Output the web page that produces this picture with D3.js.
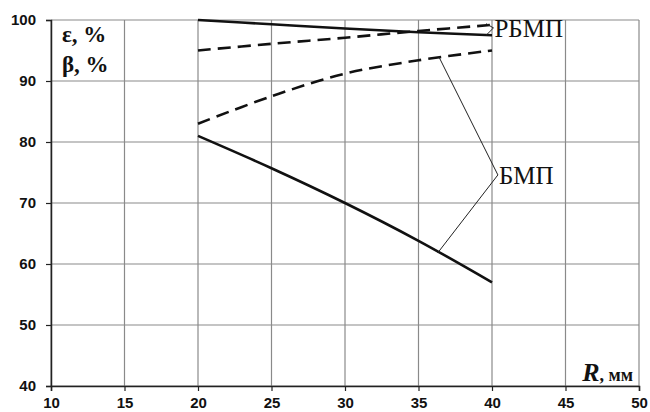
<!DOCTYPE html>
<html>
<head>
<meta charset="utf-8">
<script src="https://cdn.jsdelivr.net/npm/d3@7"></script>
<style>
  body { margin: 0; background: #fff; }
  svg { display: block; }
</style>
</head>
<body>
<svg></svg>
<script>
const width = 650;
const height = 412;
const margin = {top: 20, right: 11, bottom: 26, left: 51};

// data
const radius = [20, 25, 30, 35, 40];
const epsRBMP = [100, 99.3, 98.6, 98.0, 97.5];
const betaRBMP = [95, 96.1, 97.1, 98.2, 99.2];
const epsBMP = [81, 75.7, 70, 63.8, 57];
const betaBMP = [83, 87.5, 91.2, 93.4, 95];

const xTicks = [10, 15, 20, 25, 30, 35, 40, 45, 50];
const yTicks = [40, 50, 60, 70, 80, 90, 100];

const svg = d3.select("svg")
    .attr("width", width)
    .attr("height", height);

const x = d3.scaleLinear().domain([10, 50]).range([margin.left, width - margin.right]);
const y = d3.scaleLinear().domain([40, 100]).range([height - margin.bottom, margin.top]);

// grid
svg.append("g")
    .selectAll("line")
    .data(xTicks)
    .join("line")
    .attr("x1", d => x(d)).attr("x2", d => x(d))
    .attr("y1", y(40)).attr("y2", y(100))
    .attr("stroke", "#8a8a8a")
    .attr("stroke-width", 1.2);

svg.append("g")
    .selectAll("line")
    .data(yTicks)
    .join("line")
    .attr("x1", x(10)).attr("x2", x(50))
    .attr("y1", d => y(d)).attr("y2", d => y(d))
    .attr("stroke", "#8a8a8a")
    .attr("stroke-width", 1.2);

// axes
const xAxis = svg.append("g")
    .attr("transform", `translate(0,${y(40)})`)
    .call(d3.axisBottom(x).tickValues(xTicks).tickSize(5).tickPadding(6));
const yAxis = svg.append("g")
    .attr("transform", `translate(${x(10)},0)`)
    .call(d3.axisLeft(y).tickValues(yTicks).tickSize(5).tickPadding(10));

[xAxis, yAxis].forEach(a => {
    a.select(".domain").attr("stroke", "#222").attr("stroke-width", 1.5);
    a.selectAll(".tick line").attr("stroke", "#222").attr("stroke-width", 1.2);
    a.selectAll("text")
        .attr("fill", "#111")
        .style("font-family", "'Liberation Sans', Arial, sans-serif")
        .style("font-weight", "bold")
        .style("font-size", "15px");
});

// curves
const line = vals => d3.line()
    .x((d, i) => x(radius[i]))
    .y(d => y(d))
    .curve(d3.curveCatmullRom.alpha(0.5))(vals);

const series = [
    {vals: epsRBMP, dash: null},
    {vals: betaRBMP, dash: "13,7"},
    {vals: epsBMP, dash: null},
    {vals: betaBMP, dash: "13,7"}
];

svg.append("g")
    .selectAll("path")
    .data(series)
    .join("path")
    .attr("d", d => line(d.vals))
    .attr("fill", "none")
    .attr("stroke", "#111")
    .attr("stroke-width", 2.6)
    .attr("stroke-dasharray", d => d.dash);

// leaders and labels
const leaders = svg.append("g")
    .attr("fill", "none")
    .attr("stroke", "#222")
    .attr("stroke-width", 1);

leaders.append("polyline")
    .attr("points", [[x(39.6), y(99.4)], [x(40.1), y(98.7)], [x(39.6), y(97.5)]].join(" "));
leaders.append("polyline")
    .attr("points", [[x(36.4), y(93.9)], [x(40.4), y(74.6)], [x(36.3), y(61.8)]].join(" "));

const serif = "'Liberation Serif', 'Times New Roman', serif";

svg.append("text")
    .attr("x", x(40.1) + 1)
    .attr("y", y(98.7) + 9)
    .attr("font-family", serif)
    .attr("font-size", 25)
    .attr("fill", "#111")
    .text("РБМП");

svg.append("text")
    .attr("x", x(40.4) + 1)
    .attr("y", y(74.6) + 9)
    .attr("font-family", serif)
    .attr("font-size", 25)
    .attr("fill", "#111")
    .text("БМП");

// axis titles
const yTitle = svg.append("g")
    .attr("font-family", serif)
    .attr("font-weight", "bold")
    .attr("font-size", 23)
    .attr("fill", "#111");
yTitle.append("text").attr("x", 62).attr("y", 42).text("ε, %");
yTitle.append("text").attr("x", 62).attr("y", 72).text("β, %");

const xTitle = svg.append("text")
    .attr("x", 633)
    .attr("y", 381)
    .attr("text-anchor", "end")
    .attr("font-family", serif)
    .attr("font-weight", "bold")
    .attr("fill", "#111");
xTitle.append("tspan").attr("font-style", "italic").attr("font-size", 26).text("R");
xTitle.append("tspan").attr("font-size", 18).text(",\u00a0мм");
</script>
</body>
</html>
